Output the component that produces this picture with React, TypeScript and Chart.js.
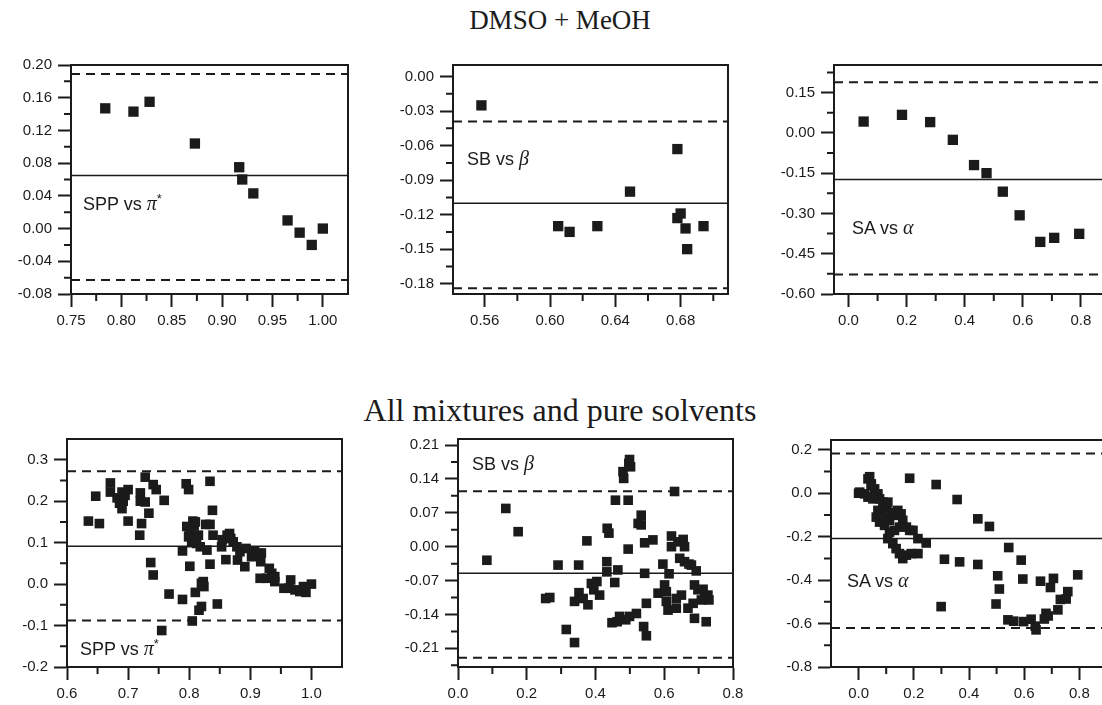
import React, { useEffect, useRef } from 'react';
import { Chart, registerables } from 'chart.js';
Chart.register(...registerables);

const INK = '#1b1b1b';
const SANS = '"Liberation Sans", Arial, sans-serif';
const SERIF = '"Liberation Serif", "Times New Roman", serif';

// ---------- DMSO + MeOH ----------
const topTitle = 'DMSO + MeOH';
const topSppPts: [number, number][] = [
  [0.784, 0.147], [0.812, 0.143], [0.828, 0.155], [0.873, 0.104], [0.917, 0.075], [0.920, 0.060],
  [0.931, 0.043], [0.965, 0.010], [0.977, -0.005], [0.989, -0.020], [1.000, 0.000],
];
const topSppRef = [0.065, 0.189, -0.063]; // mean, upper, lower
const topSppXTicks = [0.75, 0.8, 0.85, 0.9, 0.95, 1.0];
const topSppXMinor = [0.775, 0.825, 0.875, 0.925, 0.975];
const topSppYTicks = [-0.08, -0.04, 0.0, 0.04, 0.08, 0.12, 0.16, 0.2];
const topSppYMinor = [-0.06, -0.02, 0.02, 0.06, 0.1, 0.14, 0.18];

const topSbPts: [number, number][] = [
  [0.558, -0.025], [0.605, -0.130], [0.612, -0.135], [0.629, -0.130], [0.649, -0.100], [0.678, -0.063],
  [0.678, -0.123], [0.680, -0.119], [0.683, -0.132], [0.684, -0.150], [0.694, -0.130],
];
const topSbRef = [-0.110, -0.039, -0.184];
const topSbXTicks = [0.56, 0.6, 0.64, 0.68];
const topSbXMinor = [0.58, 0.62, 0.66, 0.7];
const topSbYTicks = [-0.18, -0.15, -0.12, -0.09, -0.06, -0.03, 0.0];
const topSbYMinor = [-0.165, -0.135, -0.105, -0.075, -0.045, -0.015];

const topSaPts: [number, number][] = [
  [0.052, 0.042], [0.184, 0.067], [0.281, 0.040], [0.359, -0.026], [0.432, -0.120], [0.475, -0.150],
  [0.531, -0.219], [0.589, -0.307], [0.660, -0.406], [0.708, -0.391], [0.794, -0.376],
];
const topSaRef = [-0.174, 0.188, -0.527];
const topSaXTicks = [0.0, 0.2, 0.4, 0.6, 0.8];
const topSaXMinor = [0.1, 0.3, 0.5, 0.7];
const topSaYTicks = [-0.6, -0.45, -0.3, -0.15, 0.0, 0.15];
const topSaYMinor = [-0.525, -0.375, -0.225, -0.075, 0.075, 0.225];

// ---------- All mixtures and pure solvents ----------
const bottomTitle = 'All mixtures and pure solvents';
const allSppPts: [number, number][] = [
  [0.635, 0.152], [0.647, 0.212], [0.653, 0.146], [0.671, 0.244], [0.671, 0.222], [0.682, 0.208],
  [0.686, 0.195], [0.690, 0.182], [0.692, 0.200], [0.695, 0.214], [0.690, 0.222], [0.700, 0.228],
  [0.700, 0.152], [0.720, 0.220], [0.720, 0.200], [0.722, 0.146], [0.719, 0.118], [0.728, 0.198],
  [0.728, 0.258], [0.741, 0.240], [0.746, 0.228], [0.734, 0.171], [0.737, 0.052], [0.741, 0.022],
  [0.759, 0.202], [0.755, -0.112], [0.767, -0.024], [0.789, -0.037], [0.789, 0.080], [0.795, 0.242],
  [0.799, 0.228], [0.796, 0.139], [0.801, 0.043], [0.805, -0.089], [0.806, 0.152], [0.799, 0.114],
  [0.804, 0.100], [0.808, 0.140], [0.812, 0.098], [0.815, 0.118], [0.818, 0.090], [0.810, -0.020],
  [0.816, -0.063], [0.820, -0.054], [0.820, 0.002], [0.824, -0.006], [0.823, 0.006], [0.827, 0.144],
  [0.834, 0.144], [0.834, 0.248], [0.838, 0.178], [0.839, 0.118], [0.834, 0.048], [0.829, 0.082],
  [0.846, -0.048], [0.853, 0.090], [0.854, 0.107], [0.860, 0.059], [0.862, 0.118], [0.866, 0.122],
  [0.868, 0.110], [0.872, 0.102], [0.878, 0.090], [0.879, 0.058], [0.883, 0.078], [0.891, 0.042],
  [0.893, 0.086], [0.902, 0.066], [0.907, 0.078], [0.913, 0.074], [0.917, 0.054], [0.918, 0.075],
  [0.916, 0.014], [0.927, 0.014], [0.931, 0.038], [0.935, 0.026], [0.940, 0.006], [0.940, 0.018],
  [0.955, -0.010], [0.963, -0.010], [0.966, 0.010], [0.973, -0.014], [0.981, -0.018], [0.987, -0.006],
  [0.991, -0.020], [1.000, 0.000], [0.810, 0.150], [0.800, 0.122],
];
const allSppRef = [0.091, 0.272, -0.088];
const allSppXTicks = [0.6, 0.7, 0.8, 0.9, 1.0];
const allSppXMinor = [0.65, 0.75, 0.85, 0.95];
const allSppYTicks = [-0.2, -0.1, 0.0, 0.1, 0.2, 0.3];
const allSppYMinor = [-0.15, -0.05, 0.05, 0.15, 0.25];

const allSbPts: [number, number][] = [
  [0.084, -0.028], [0.139, 0.079], [0.175, 0.031], [0.255, -0.107], [0.267, -0.105], [0.291, -0.038],
  [0.315, -0.171], [0.339, -0.198], [0.339, -0.113], [0.351, -0.038], [0.352, -0.095], [0.364, -0.107],
  [0.378, -0.120], [0.375, 0.012], [0.388, -0.076], [0.395, -0.089], [0.404, -0.072], [0.412, -0.100],
  [0.433, -0.031], [0.433, -0.052], [0.434, 0.038], [0.439, 0.028], [0.448, -0.157], [0.456, -0.074],
  [0.458, 0.096], [0.463, -0.155], [0.465, -0.048], [0.470, -0.144], [0.480, 0.155], [0.482, 0.141],
  [0.488, -0.151], [0.495, 0.096], [0.495, -0.005], [0.497, 0.172], [0.502, 0.165], [0.499, 0.180],
  [0.499, -0.144], [0.519, -0.138], [0.524, 0.048], [0.533, 0.065], [0.533, 0.045], [0.540, -0.165],
  [0.543, 0.008], [0.543, -0.055], [0.548, -0.117], [0.548, -0.184], [0.567, 0.014], [0.582, -0.096],
  [0.596, -0.036], [0.601, -0.079], [0.606, -0.093], [0.606, -0.113], [0.611, -0.131], [0.614, -0.056],
  [0.621, 0.022], [0.621, 0.000], [0.630, 0.114], [0.635, -0.107], [0.635, -0.127], [0.640, 0.010],
  [0.645, -0.024], [0.650, -0.100], [0.655, 0.015], [0.659, -0.031], [0.659, 0.000], [0.669, -0.127],
  [0.672, -0.036], [0.679, -0.038], [0.684, -0.117], [0.688, -0.148], [0.688, -0.079], [0.693, -0.050],
  [0.698, -0.089], [0.708, -0.110], [0.713, -0.088], [0.718, -0.107], [0.722, -0.155], [0.727, -0.100],
  [0.730, -0.110],
];
const allSbRef = [-0.055, 0.1146, -0.2293];
const allSbXTicks = [0.0, 0.2, 0.4, 0.6, 0.8];
const allSbXMinor = [0.1, 0.3, 0.5, 0.7];
const allSbYTicks = [-0.21, -0.14, -0.07, 0.0, 0.07, 0.14, 0.21];
const allSbYMinor = [-0.245, -0.175, -0.105, -0.035, 0.035, 0.105, 0.175];

const allSaPts: [number, number][] = [
  [0.000, 0.000], [0.040, 0.076], [0.034, 0.066], [0.046, 0.043], [0.058, 0.020], [0.070, -0.003],
  [0.076, -0.026], [0.088, -0.041], [0.100, -0.064], [0.070, -0.079], [0.064, -0.110], [0.076, -0.133],
  [0.094, -0.148], [0.112, -0.125], [0.130, -0.102], [0.142, -0.079], [0.154, -0.095], [0.160, -0.125],
  [0.148, -0.156], [0.130, -0.171], [0.112, -0.179], [0.173, -0.156], [0.185, -0.171], [0.197, -0.171],
  [0.215, -0.209], [0.245, -0.229], [0.106, -0.209], [0.124, -0.232], [0.136, -0.255], [0.148, -0.278],
  [0.160, -0.301], [0.173, -0.285], [0.191, -0.278], [0.215, -0.278], [0.004, 0.005], [0.022, -0.003],
  [0.034, -0.018], [0.052, -0.026], [0.082, -0.095], [0.094, -0.110], [0.118, -0.087], [0.106, -0.041],
  [0.046, 0.035], [0.185, 0.069], [0.281, 0.040], [0.357, -0.029], [0.432, -0.118], [0.474, -0.153],
  [0.311, -0.304], [0.366, -0.316], [0.432, -0.328], [0.299, -0.522], [0.544, -0.250], [0.589, -0.308],
  [0.504, -0.380], [0.510, -0.441], [0.498, -0.510], [0.595, -0.395], [0.541, -0.583], [0.562, -0.589],
  [0.598, -0.591], [0.625, -0.580], [0.643, -0.629], [0.640, -0.612], [0.659, -0.405], [0.695, -0.434],
  [0.706, -0.392], [0.794, -0.376], [0.673, -0.579], [0.679, -0.553], [0.687, -0.565], [0.722, -0.537],
  [0.731, -0.489], [0.752, -0.487], [0.758, -0.453],
];
const allSaRef = [-0.208, 0.183, -0.62];
const allSaXTicks = [0.0, 0.2, 0.4, 0.6, 0.8];
const allSaXMinor = [0.1, 0.3, 0.5, 0.7];
const allSaYTicks = [-0.8, -0.6, -0.4, -0.2, 0.0, 0.2];
const allSaYMinor = [-0.7, -0.5, -0.3, -0.1, 0.1];

// ---------- layout / style ----------
const PL = 75, PT = 14, PR = 30, PB = 48;
const MAJOR = 13, MINOR = 7;

type PanelDef = {
  pts: [number, number][];
  refs: number[];
  xr: [number, number]; yr: [number, number];
  xTicks: number[]; xMinor: number[]; yTicks: number[]; yMinor: number[];
  xDec: number; yDec: number;
  box: [number, number, number, number];
  radius: number;
  label: [string, string, boolean];
  labelPos: [number, number];
};

const fmt = (v: number, d: number) => (Math.abs(v) < 1e-9 ? 0 : v).toFixed(d);

function Panel({ d }: { d: PanelDef }) {
  const ref = useRef<HTMLCanvasElement>(null);
  const [l, t, r, b] = d.box;
  const W = r - l + PL + PR;
  const H = b - t + PT + PB;
  useEffect(() => {
    const frame = {
      id: 'frame',
      afterDraw(chart: any) {
        const { ctx, chartArea: a, scales } = chart;
        ctx.save();
        ctx.strokeStyle = INK;
        ctx.lineWidth = 2;
        ctx.beginPath();
        ctx.moveTo(a.left - 1, a.top);
        ctx.lineTo(a.right, a.top);
        ctx.lineTo(a.right, a.bottom + 1);
        for (const v of d.xMinor) {
          const px = scales.x.getPixelForValue(v);
          ctx.moveTo(px, a.bottom);
          ctx.lineTo(px, a.bottom + MINOR);
        }
        for (const v of d.yMinor) {
          const py = scales.y.getPixelForValue(v);
          ctx.moveTo(a.left, py);
          ctx.lineTo(a.left - MINOR, py);
        }
        ctx.stroke();
        ctx.restore();
      },
    };
    const [mean, upper, lower] = d.refs;
    const hline = (v: number, dash: number[], w: number) => ({
      data: [{ x: d.xr[0], y: v }, { x: d.xr[1], y: v }],
      showLine: true,
      pointRadius: 0,
      borderColor: INK,
      borderWidth: w,
      borderDash: dash,
      order: 1,
    });
    const font = { family: SANS, size: 15 };
    const grid = {
      display: true,
      drawOnChartArea: false,
      drawTicks: true,
      tickLength: MAJOR,
      tickWidth: 2,
      tickColor: INK,
    };
    const chart = new Chart(ref.current as HTMLCanvasElement, {
      type: 'scatter',
      data: {
        datasets: [
          {
            data: d.pts.map(([x, y]) => ({ x, y })),
            pointStyle: 'rect',
            pointRadius: d.radius,
            backgroundColor: INK,
            borderWidth: 0,
            order: 0,
          } as any,
          hline(mean, [], 1.5),
          hline(upper, [9, 6], 2),
          hline(lower, [9, 6], 2),
        ],
      },
      options: {
        responsive: false,
        animation: false,
        devicePixelRatio: 1,
        layout: { padding: { left: 0, top: PT, right: PR, bottom: 0 } },
        plugins: { legend: { display: false }, tooltip: { enabled: false } },
        scales: {
          x: {
            type: 'linear',
            min: d.xr[0],
            max: d.xr[1],
            afterBuildTicks: (s: any) => { s.ticks = d.xTicks.map((v) => ({ value: v })); },
            afterFit: (s: any) => { s.height = PB; },
            ticks: { callback: (v: any) => fmt(Number(v), d.xDec), font, color: INK, padding: 5, autoSkip: false, maxRotation: 0 },
            grid,
            border: { display: true, width: 2, color: INK },
          },
          y: {
            type: 'linear',
            min: d.yr[0],
            max: d.yr[1],
            afterBuildTicks: (s: any) => { s.ticks = d.yTicks.map((v) => ({ value: v })); },
            afterFit: (s: any) => { s.width = PL; },
            ticks: { callback: (v: any) => fmt(Number(v), d.yDec), font, color: INK, padding: 6, autoSkip: false },
            grid,
            border: { display: true, width: 2, color: INK },
          },
        },
      } as any,
      plugins: [frame as any],
    });
    return () => chart.destroy();
  }, []);
  const [pre, greek, star] = d.label;
  return (
    <>
      <canvas
        ref={ref}
        width={W}
        height={H}
        style={{ position: 'absolute', left: l - PL, top: t - PT, width: W, height: H }}
      />
      <div
        style={{
          position: 'absolute',
          left: d.labelPos[0],
          top: d.labelPos[1] - 11,
          font: `18px ${SANS}`,
          lineHeight: '22px',
          color: INK,
          whiteSpace: 'nowrap',
        }}
      >
        {pre}
        <span style={{ fontFamily: SERIF, fontStyle: 'italic', fontSize: 20 }}>{greek}</span>
        {star ? <span style={{ fontSize: 13, position: 'relative', top: -7 }}>*</span> : null}
      </div>
    </>
  );
}

const panels: PanelDef[] = [
  {
    pts: topSppPts, refs: topSppRef, xr: [0.75, 1.025], yr: [-0.08, 0.2],
    xTicks: topSppXTicks, xMinor: topSppXMinor, yTicks: topSppYTicks, yMinor: topSppYMinor,
    xDec: 2, yDec: 2, box: [71, 64, 348, 294], radius: 7.3,
    label: ['SPP vs ', 'π', true], labelPos: [83, 203],
  },
  {
    pts: topSbPts, refs: topSbRef, xr: [0.5406, 0.709], yr: [-0.189, 0.0101],
    xTicks: topSbXTicks, xMinor: topSbXMinor, yTicks: topSbYTicks, yMinor: topSbYMinor,
    xDec: 2, yDec: 2, box: [453, 64, 728, 294], radius: 7.3,
    label: ['SB vs ', 'β', false], labelPos: [467, 158],
  },
  {
    pts: topSaPts, refs: topSaRef, xr: [-0.05, 0.9], yr: [-0.6, 0.2526],
    xTicks: topSaXTicks, xMinor: topSaXMinor, yTicks: topSaYTicks, yMinor: topSaYMinor,
    xDec: 1, yDec: 2, box: [834, 64, 1110, 294], radius: 7.3,
    label: ['SA vs ', 'α', false], labelPos: [852, 227],
  },
  {
    pts: allSppPts, refs: allSppRef, xr: [0.6, 1.05], yr: [-0.2, 0.35],
    xTicks: allSppXTicks, xMinor: allSppXMinor, yTicks: allSppYTicks, yMinor: allSppYMinor,
    xDec: 1, yDec: 1, box: [67, 438, 342, 667], radius: 6.8,
    label: ['SPP vs ', 'π', true], labelPos: [80, 648],
  },
  {
    pts: allSbPts, refs: allSbRef, xr: [0.0, 0.8], yr: [-0.2485, 0.2224],
    xTicks: allSbXTicks, xMinor: allSbXMinor, yTicks: allSbYTicks, yMinor: allSbYMinor,
    xDec: 1, yDec: 2, box: [458, 438, 733, 667], radius: 6.8,
    label: ['SB vs ', 'β', false], labelPos: [472, 463],
  },
  {
    pts: allSaPts, refs: allSaRef, xr: [-0.1, 0.9], yr: [-0.8, 0.245],
    xTicks: allSaXTicks, xMinor: allSaXMinor, yTicks: allSaYTicks, yMinor: allSaYMinor,
    xDec: 1, yDec: 1, box: [831, 439, 1107, 667], radius: 6.8,
    label: ['SA vs ', 'α', false], labelPos: [847, 580],
  },
];

export default function App() {
  return (
    <div
      style={{
        position: 'fixed', left: 0, top: 0, width: 1102, height: 705,
        overflow: 'hidden', background: '#ffffff',
      }}
    >
      <div style={{ position: 'absolute', left: 260, width: 600, top: 4, textAlign: 'center', font: `27px ${SERIF}`, lineHeight: '32px', color: INK }}>
        {topTitle}
      </div>
      <div style={{ position: 'absolute', left: 260, width: 600, top: 394, textAlign: 'center', font: `32px ${SERIF}`, lineHeight: '32px', color: INK }}>
        {bottomTitle}
      </div>
      {panels.map((p, i) => <Panel key={i} d={p} />)}
    </div>
  );
}
